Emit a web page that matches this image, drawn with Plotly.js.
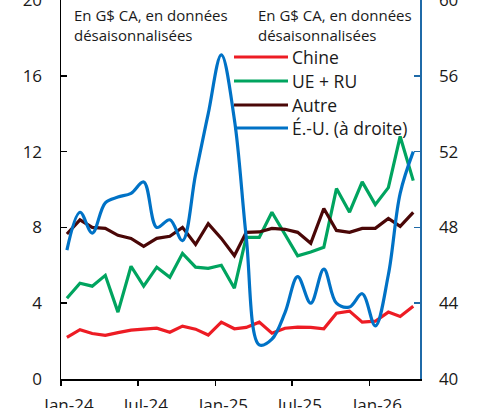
<!DOCTYPE html>
<html><head><meta charset="utf-8">
<script src="https://cdn.plot.ly/plotly-3.0.1.min.js"></script>
<style>html,body{margin:0;padding:0;background:#fff}#chart{width:477px;height:408px}</style>
</head><body><div id="chart"></div>
<script>
const months = ['2024-01-15','2024-02-15','2024-03-15','2024-04-15','2024-05-15','2024-06-15',
  '2024-07-15','2024-08-15','2024-09-15','2024-10-15','2024-11-15','2024-12-15',
  '2025-01-15','2025-02-15','2025-03-15','2025-04-15','2025-05-15','2025-06-15',
  '2025-07-15','2025-08-15','2025-09-15','2025-10-15','2025-11-15','2025-12-15',
  '2026-01-15','2026-02-15','2026-03-15','2026-04-15'];
const chine = [2.2,2.6,2.4,2.3,2.45,2.58,2.63,2.68,2.47,2.79,2.63,2.32,
  3.0,2.65,2.72,3.0,2.42,2.68,2.74,2.72,2.65,3.47,3.58,3.0,3.05,3.53,3.3,3.84];
const ueRu = [4.26,5.05,4.9,5.47,3.53,5.95,4.9,5.9,5.37,6.63,5.9,5.84,
  6.0,4.79,7.47,7.47,8.8,7.6,6.5,6.7,6.95,10.05,8.8,10.4,9.2,10.1,12.8,10.47];
const autre = [7.65,8.4,8.0,7.95,7.58,7.42,7.0,7.42,7.53,8.0,7.1,8.2,
  7.42,6.5,7.74,7.76,7.95,7.9,7.74,7.16,9.0,7.84,7.74,7.95,7.95,8.47,8.05,8.79];
const eu = [46.8,48.8,47.7,49.3,49.6,49.8,50.4,48.0,48.4,47.3,50.8,54.0,
  57.1,53.7,47.5,41.8,42.1,43.5,45.4,44.0,45.8,44.0,43.8,44.5,42.8,45.5,49.8,52.0];
const seriesNames = ['Chine','UE + RU','Autre','É.-U. (à droite)'];
const seriesColors = ['#ED1C24','#00A45F','#4A0707','#0072C6'];
const xTickVals = ['2024-01-01','2024-07-01','2025-01-01','2025-07-01','2026-01-01'];
const xTickText = ['Jan-24','Jul-24','Jan-25','Jul-25','Jan-26'];
const leftTicks = [0,4,8,12,16,20];
const rightTicks = [40,44,48,52,56,60];
const noteText = 'En G$ CA, en données<br>désaisonnalisées';

const FONT = '"Open Sans", "Noto Sans", sans-serif';
const W = 477, H = 408;
const M = {l:61, r:57, t:0, b:29};
const pw = W - M.l - M.r, ph = H - M.t - M.b;
const px = x => (x - M.l) / pw;
const py = y => (H - M.b - y) / ph;

const lw = 3.2;
const traces = [
  {x: months, y: chine, name: seriesNames[0], type:'scatter', mode:'lines', line:{color:seriesColors[0], width:lw}},
  {x: months, y: ueRu, name: seriesNames[1], type:'scatter', mode:'lines', line:{color:seriesColors[1], width:lw}},
  {x: months, y: autre, name: seriesNames[2], type:'scatter', mode:'lines', line:{color:seriesColors[2], width:lw}},
  {x: months, y: eu, name: seriesNames[3], type:'scatter', mode:'lines', yaxis:'y2', line:{color:seriesColors[3], width:lw, shape:'spline', smoothing:1}}
];

const legendY = [57, 81, 105, 128];
const shapes = [], annotations = [];
seriesNames.forEach((n, i) => {
  shapes.push({type:'line', xref:'paper', yref:'paper', x0:px(234), x1:px(288), y0:py(legendY[i]), y1:py(legendY[i]),
    line:{color:seriesColors[i], width:lw}});
  annotations.push({xref:'paper', yref:'paper', x:px(290), y:py(legendY[i]), xanchor:'left', yanchor:'middle',
    text:n, showarrow:false, font:{family:FONT, size:17.5, color:'#1a1a1a'}});
});
[75, 259].forEach(x0 => {
  annotations.push({xref:'paper', yref:'paper', x:px(x0-3), y:py(3), xanchor:'left', yanchor:'top', align:'left',
    text:noteText, showarrow:false, font:{family:FONT, size:15, color:'#1a1a1a'}});
});

const layout = {
  width: W, height: H,
  margin: M,
  paper_bgcolor:'#fff', plot_bgcolor:'#fff',
  showlegend:false,
  font:{family:FONT, size:17, color:'#1a1a1a'},
  xaxis:{type:'date', range:['2024-01-01','2026-05-01'], tickvals:xTickVals, ticktext:xTickText,
    showgrid:false, zeroline:false, showline:true, linecolor:'#000', linewidth:1.5,
    ticks:'outside', ticklen:5, tickwidth:1.5, tickcolor:'#000', ticklabelshift:8, ticklabelstandoff:5,
    ticklabeloverflow:'allow', tickfont:{size:17}},
  yaxis:{range:[0,20], tickvals:leftTicks, showgrid:false, zeroline:false, showline:true, linecolor:'#000', linewidth:1.5,
    ticks:'inside', ticklen:6, tickwidth:1.5, tickcolor:'#000', ticklabelstandoff:14, ticklabeloverflow:'allow', tickfont:{size:17}},
  yaxis2:{range:[40,60], tickvals:rightTicks, overlaying:'y', side:'right', showgrid:false, zeroline:false,
    showline:true, linecolor:'#1F6AA8', linewidth:1.5, ticks:'inside', ticklen:6, tickwidth:1.5, tickcolor:'#1F6AA8',
    ticklabelstandoff:14, ticklabeloverflow:'allow', tickfont:{size:17}},
  shapes: shapes,
  annotations: annotations
};
Plotly.newPlot('chart', traces, layout, {displayModeBar:false, staticPlot:true});
</script>
</body></html>
